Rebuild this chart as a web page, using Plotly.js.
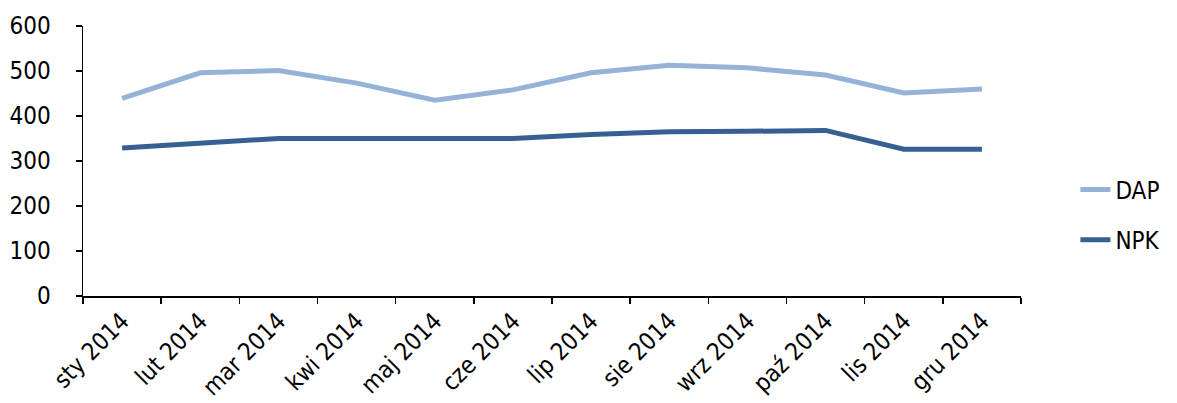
<!DOCTYPE html>
<html><head><meta charset="utf-8">
<script src="https://cdn.plot.ly/plotly-3.0.1.min.js"></script>
<style>html,body{margin:0;padding:0;background:#fff}#chart{width:1177px;height:403px}</style>
</head><body><div id="chart"></div>
<script>
const categories = ["sty 2014","lut 2014","mar 2014","kwi 2014","maj 2014","cze 2014","lip 2014","sie 2014","wrz 2014","paź 2014","lis 2014","gru 2014"];
const dapValues = [439, 496, 501, 473, 435, 458, 496, 513, 507, 491, 451, 460];
const npkValues = [329, 340, 350, 350, 350, 350, 359, 365, 366, 368, 326, 326];
const yTicks = [0, 100, 200, 300, 400, 500, 600];

const font = "'Liberation Sans Narrow', 'DejaVu Sans Condensed', 'Open Sans', sans-serif";
const traces = [
  {x: categories, y: dapValues, name: "DAP", type: "scatter", mode: "lines", legendgroup: "a",
   line: {color: "#95B3D7", width: 5}},
  {x: categories, y: npkValues, name: "NPK", type: "scatter", mode: "lines", legendgroup: "b",
   line: {color: "#376092", width: 5}}
];
const layout = {
  width: 1177, height: 403,
  margin: {l: 83, r: 154, t: 26, b: 107},
  paper_bgcolor: "#fff", plot_bgcolor: "#fff",
  font: {family: font, size: 24, color: "#000"},
  showlegend: true,
  legend: {x: 1.058, y: 0.3, xanchor: "left", yanchor: "middle", tracegroupgap: 16,
           font: {family: font, size: 24, color: "#000"}, itemwidth: 30},
  xaxis: {type: "category", range: [-0.5, 11.5], showgrid: false, zeroline: false,
          showline: true, linecolor: "#000", linewidth: 1.5,
          ticks: "outside", ticklen: 6, tickcolor: "#000", tickwidth: 1.5,
          tickson: "boundaries", tickangle: -45,
          tickfont: {family: font, size: 24}},
  yaxis: {range: [0, 600], tickvals: yTicks, showgrid: false, zeroline: false,
          showline: true, linecolor: "#000", linewidth: 1.5,
          ticks: "outside", ticklen: 6, tickcolor: "#000", tickwidth: 1.5,
          ticklabelstandoff: 20,
          tickfont: {family: font, size: 24}}
};
Plotly.newPlot("chart", traces, layout, {displayModeBar: false, staticPlot: true});
</script></body></html>
